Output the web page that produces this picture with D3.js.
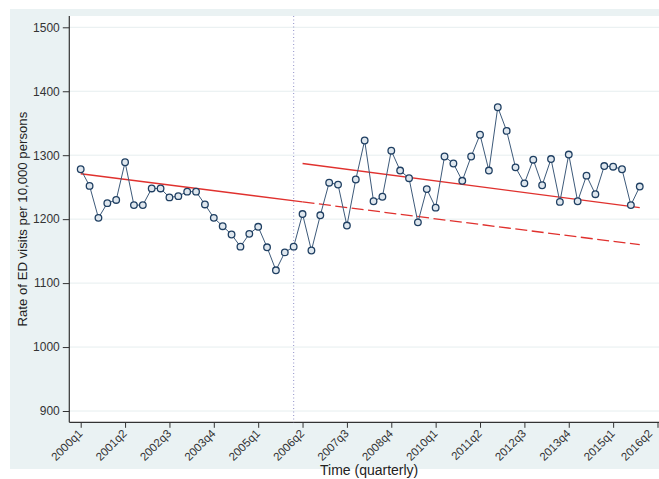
<!DOCTYPE html>
<html>
<head>
<meta charset="utf-8">
<script src="https://cdn.jsdelivr.net/npm/d3@7"></script>
<style>
  html, body { margin: 0; padding: 0; background: #ffffff; }
  svg { display: block; font-family: "Liberation Sans", Arial, sans-serif; }
</style>
</head>
<body>
<svg id="chart" width="659" height="479"></svg>
<script>
// ---- data ----
const quarterLabels = ["2000q1","2001q2","2002q3","2003q4","2005q1","2006q2","2007q3","2008q4","2010q1","2011q2","2012q3","2013q4","2015q1","2016q2"];
const quarterTickIndex = [0,5,10,15,20,25,30,35,40,45,50,55,60,65];
const yTicks = [900,1000,1100,1200,1300,1400,1500];
const rates = [
  1278,1252,1202,1225,1230,1289,1222,1222,1248,1248,
  1234,1236,1243,1243,1223,1202,1189,1176,1157,1177,
  1188,1156,1120,1148,1157,1208,1151,1206,1257,1254,
  1190,1262,1323,1228,1235,1307,1276,1264,1195,1247,
  1218,1298,1287,1260,1298,1332,1276,1375,1338,1281,
  1256,1293,1253,1294,1227,1301,1228,1268,1239,1283,
  1282,1278,1222,1251
];
const interventionIndex = 24;
// fitted trend end points: [index, value]
const preTrend = [[0,1271],[25,1227]];
const counterfactual = [[25,1227],[63,1160]];
const postTrend = [[25,1287],[63,1218]];

// ---- layout ----
const svg = d3.select("#chart");
const W = 659, H = 479;
const plot = {left: 69.3, right: 659, top: 16, bottom: 422.3};

svg.append("rect").attr("x", 10).attr("y", 9).attr("width", W - 10).attr("height", 460)
  .attr("fill", "#eaf2f3");
svg.append("rect").attr("x", plot.left).attr("y", plot.top)
  .attr("width", plot.right - plot.left).attr("height", plot.bottom - plot.top)
  .attr("fill", "#ffffff");

const x = d3.scaleLinear().domain([0, 65]).range([80.7, 657.5]);
const y = d3.scaleLinear().domain([900, 1500]).range([411, 27.3]);

// grid
svg.append("g").selectAll("line").data(yTicks).join("line")
  .attr("x1", plot.left).attr("x2", plot.right)
  .attr("y1", d => y(d)).attr("y2", d => y(d))
  .attr("stroke", "#e6eeef").attr("stroke-width", 1);

// y axis
const yAxis = svg.append("g").attr("transform", `translate(${plot.left},0)`)
  .call(d3.axisLeft(y).tickValues(yTicks).tickSize(6.5).tickPadding(3).tickFormat(d3.format("d")));
yAxis.select(".domain").remove();
yAxis.selectAll(".tick line").attr("stroke", "#333");
yAxis.selectAll(".tick text").attr("font-size", 12).attr("fill", "#333")
  .attr("font-family", "Liberation Sans, Arial, sans-serif");
svg.append("line").attr("x1", plot.left).attr("x2", plot.left)
  .attr("y1", plot.top).attr("y2", plot.bottom).attr("stroke", "#333").attr("stroke-width", 1.2);

// x axis
const lastTick = quarterTickIndex.length - 1;
const xAxis = svg.append("g").attr("transform", `translate(0,${plot.bottom})`)
  .call(d3.axisBottom(x).tickValues(quarterTickIndex).tickSize(5.5)
    .tickFormat((d, i) => quarterLabels[i]));
xAxis.select(".domain").remove();
xAxis.selectAll(".tick line").attr("stroke", "#333");
xAxis.selectAll(".tick text")
  .attr("font-size", 11.5).attr("fill", "#333")
  .attr("font-family", "Liberation Sans, Arial, sans-serif")
  .attr("text-anchor", "end")
  .attr("dy", null).attr("y", null)
  .attr("transform", (d, i) => i === lastTick ? "translate(-5,12) rotate(-45)" : "translate(2,12) rotate(-45)");
svg.append("line").attr("x1", plot.left).attr("x2", plot.right)
  .attr("y1", plot.bottom).attr("y2", plot.bottom).attr("stroke", "#333").attr("stroke-width", 1.2);

// axis titles
svg.append("text").attr("transform", `translate(27,${(plot.top + plot.bottom) / 2}) rotate(-90)`)
  .attr("text-anchor", "middle").attr("font-size", 13.2).attr("fill", "#222")
  .text("Rate of ED visits per 10,000 persons");
svg.append("text").attr("x", (plot.left + plot.right) / 2 + 5).attr("y", 475)
  .attr("text-anchor", "middle").attr("font-size", 14).attr("fill", "#222")
  .text("Time (quarterly)");

// intervention line
svg.append("line").attr("x1", x(interventionIndex)).attr("x2", x(interventionIndex))
  .attr("y1", plot.top).attr("y2", plot.bottom)
  .attr("stroke", "#8f8fc8").attr("stroke-width", 1).attr("stroke-dasharray", "1,2.5");

// trend lines
const line = d3.line().x(d => x(d[0])).y(d => y(d[1]));
svg.append("path").attr("d", line(preTrend)).attr("fill", "none")
  .attr("stroke", "#e0312e").attr("stroke-width", 1.3);
svg.append("path").attr("d", line(postTrend)).attr("fill", "none")
  .attr("stroke", "#e0312e").attr("stroke-width", 1.3);
svg.append("path").attr("d", line(counterfactual)).attr("fill", "none")
  .attr("stroke", "#e0312e").attr("stroke-width", 1.3).attr("stroke-dasharray", "12,4.5");

// data series
const series = rates.map((v, i) => [i, v]);
svg.append("path").attr("d", line(series)).attr("fill", "none")
  .attr("stroke", "#3d5a7a").attr("stroke-width", 1);
svg.append("g").selectAll("circle").data(series).join("circle")
  .attr("cx", d => x(d[0])).attr("cy", d => y(d[1])).attr("r", 3.3)
  .attr("fill", "#dfe7ee").attr("stroke", "#1f3f62").attr("stroke-width", 1.3);
</script>
</body>
</html>
